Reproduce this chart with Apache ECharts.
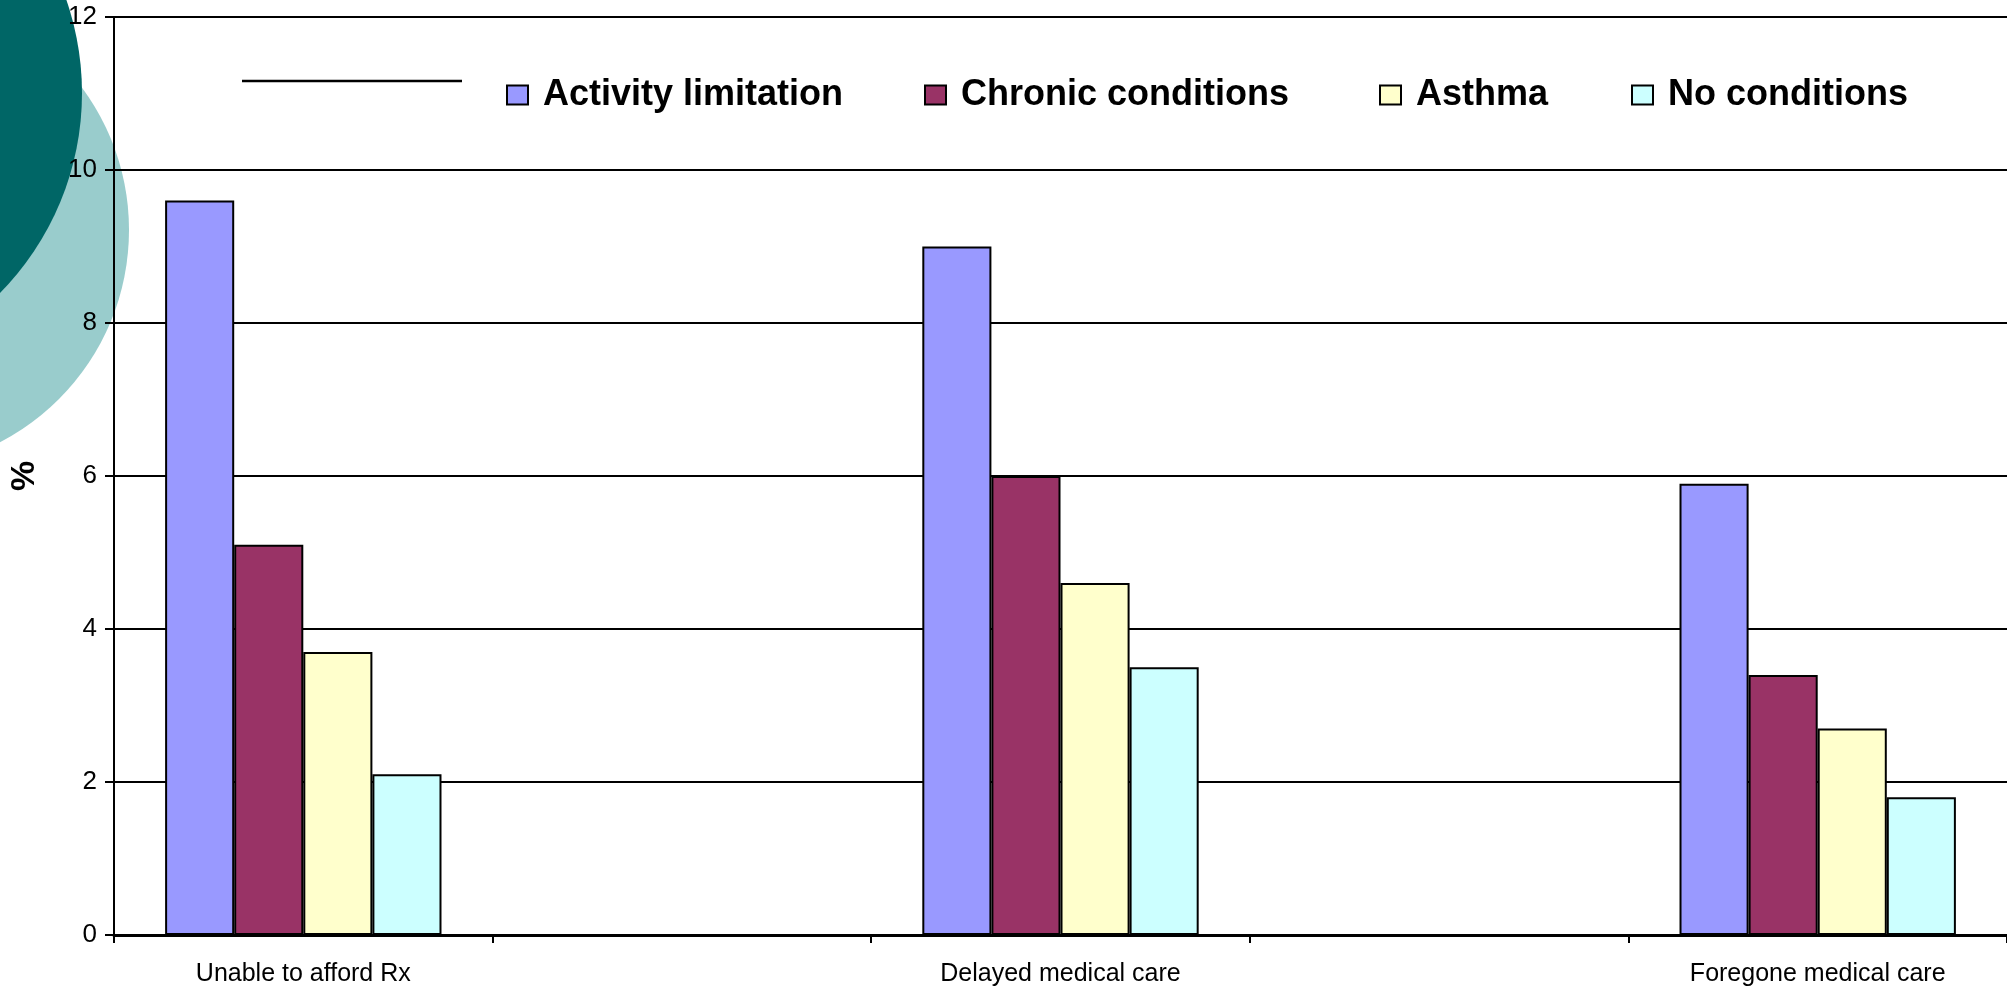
<!DOCTYPE html>
<html>
<head>
<meta charset="utf-8">
<title>Access to care by health condition</title>
<script src="https://cdn.jsdelivr.net/npm/echarts@6/dist/echarts.min.js"></script>
<style>
  html, body { margin: 0; padding: 0; background: #ffffff; }
  #chart { width: 2007px; height: 996px; }
</style>
</head>
<body>
<div id="chart"></div>
<script>
// Categories along the x axis (blank slots leave space between the groups)
const categories = ['Unable to afford Rx', '', 'Delayed medical care', '', 'Foregone medical care'];

// Percentages per group of children
const activityLimitation = [9.6, null, 9.0, null, 5.9];
const chronicConditions  = [5.1, null, 6.0, null, 3.4];
const asthma             = [3.7, null, 4.6, null, 2.7];
const noConditions       = [2.1, null, 3.5, null, 1.8];

const seriesNames  = ['Activity limitation', 'Chronic conditions', 'Asthma', 'No conditions'];
const seriesValues = [activityLimitation, chronicConditions, asthma, noConditions];
const seriesColors = ['#9999FF', '#993366', '#FFFFCC', '#CCFFFF'];

// Value axis ticks
const yMin = 0, yMax = 12, yStep = 2;

const FONT = '"Liberation Sans", Arial, Helvetica, sans-serif';

// Horizontal start of each legend entry
const legendLefts = [506, 924, 1379, 1631];

const chart = echarts.init(document.getElementById('chart'), null, { renderer: 'canvas' });

const option = {
  backgroundColor: '#ffffff',
  animation: false,
  textStyle: { fontFamily: FONT, color: '#000' },
  graphic: {
    elements: [
      // slide decoration: two overlapping teal discs on the left edge
      { type: 'circle', z: -10, shape: { cx: -110, cy: 230, r: 239 }, style: { fill: '#99CCCC' } },
      { type: 'circle', z: -9,  shape: { cx: -203, cy: 93,  r: 285 }, style: { fill: '#006666' } },
      // rule ahead of the legend
      { type: 'line', z: 5, shape: { x1: 242, y1: 81, x2: 462, y2: 81 }, style: { stroke: '#000', lineWidth: 2.5 } }
    ]
  },
  legend: seriesNames.map((name, i) => ({
    left: legendLefts[i],
    top: 76,
    padding: 0,
    itemWidth: 21,
    itemHeight: 19,
    icon: 'rect',
    textStyle: {
      fontFamily: FONT,
      fontSize: 36,
      fontWeight: 'bold',
      color: '#000',
      lineHeight: 38,
      padding: [0, 0, 0, 10]
    },
    data: [name]
  })),
  grid: {
    left: 111,
    top: 17,
    width: 1899,
    height: 918,
    containLabel: false
  },
  xAxis: {
    type: 'category',
    data: categories,
    boundaryGap: true,
    axisLine: { lineStyle: { color: '#000', width: 3 } },
    axisTick: { show: true, interval: 0, length: 8, lineStyle: { color: '#000', width: 2 } },
    axisLabel: {
      interval: 0,
      fontFamily: FONT,
      fontSize: 25,
      color: '#000',
      margin: 27
    },
    splitLine: { show: false }
  },
  yAxis: {
    type: 'value',
    min: yMin,
    max: yMax,
    interval: yStep,
    name: '%',
    nameLocation: 'middle',
    nameRotate: 90,
    nameGap: 72,
    nameTextStyle: { fontFamily: FONT, fontSize: 34, fontWeight: 'bold', color: '#000' },
    axisLine: { show: true, lineStyle: { color: '#000', width: 2 } },
    axisTick: { show: true, length: 9, lineStyle: { color: '#000', width: 2 } },
    axisLabel: { fontFamily: FONT, fontSize: 26, color: '#000', margin: 17 },
    splitLine: { show: true, lineStyle: { color: '#000', width: 2 } }
  },
  series: seriesNames.map((name, i) => ({
    name: name,
    type: 'bar',
    data: seriesValues[i],
    barGap: 0,
    barCategoryGap: '27%',
    itemStyle: {
      color: seriesColors[i],
      borderColor: '#000',
      borderWidth: 2
    }
  }))
};

chart.setOption(option);
</script>
</body>
</html>
